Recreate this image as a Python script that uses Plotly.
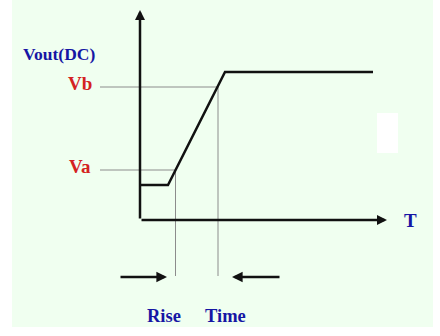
import plotly.graph_objects as go

# Data (time units ~ arbitrary, voltage units ~ arbitrary)
signal_t = [0, 28, 85, 233]
signal_v = [35, 35, 148, 148]
va_level = 50
vb_level = 133
rise_start_t = 35.5
rise_end_t = 78
guide_left_t = -40
guide_bottom_v = -56
axis_t_max = 247
axis_v_max = 210
labels_v = ["Va", "Vb"]
label_values = [va_level, vb_level]

BLUE = "#1616A4"
RED = "#D42222"
GRAY = "#8C8C8C"
FONT = "Liberation Serif"

fig = go.Figure()

# guide lines
fig.add_trace(go.Scatter(x=[guide_left_t, rise_start_t, rise_start_t],
                         y=[va_level, va_level, guide_bottom_v],
                         mode="lines", line=dict(color=GRAY, width=1), hoverinfo="skip"))
fig.add_trace(go.Scatter(x=[guide_left_t, rise_end_t, rise_end_t],
                         y=[vb_level, vb_level, guide_bottom_v],
                         mode="lines", line=dict(color=GRAY, width=1), hoverinfo="skip"))

# signal
fig.add_trace(go.Scatter(x=signal_t, y=signal_v, mode="lines",
                         line=dict(color="#111111", width=2.5), hoverinfo="skip"))

shapes = [
    # green panel
    dict(type="rect", xref="x", yref="y", x0=-128, x1=293, y0=-107, y1=220,
         fillcolor="#F0FFF0", line=dict(width=0), layer="below"),
    # white patch
    dict(type="rect", xref="x", yref="y", x0=237, x1=258, y0=67, y1=107,
         fillcolor="#FFFFFF", line=dict(width=0), layer="below"),
]

annotations = []
# axes arrows
annotations.append(dict(x=0, y=axis_v_max, ax=0, ay=0, xref="x", yref="y", axref="x", ayref="y",
                        text="", showarrow=True, arrowhead=2, arrowsize=0.8, arrowwidth=2.5,
                        arrowcolor="#111111"))
annotations.append(dict(x=axis_t_max, y=0, ax=0, ay=0, xref="x", yref="y", axref="x", ayref="y",
                        text="", showarrow=True, arrowhead=2, arrowsize=0.8, arrowwidth=2.5,
                        arrowcolor="#111111"))
# rise time arrows
annotations.append(dict(x=27, y=-57, ax=-21, ay=-57, xref="x", yref="y", axref="x", ayref="y",
                        text="", showarrow=True, arrowhead=2, arrowsize=0.85, arrowwidth=2.5,
                        arrowcolor="#111111"))
annotations.append(dict(x=92, y=-57, ax=141, ay=-57, xref="x", yref="y", axref="x", ayref="y",
                        text="", showarrow=True, arrowhead=2, arrowsize=0.85, arrowwidth=2.5,
                        arrowcolor="#111111"))

# texts
annotations.append(dict(x=-81, y=166, xref="x", yref="y", text="<b>Vout(DC)</b>", showarrow=False,
                        font=dict(family=FONT, size=17.5, color=BLUE)))
for lab, v in zip(labels_v, label_values):
    annotations.append(dict(x=-60, y=v + 4, xref="x", yref="y", text=f"<b>{lab}</b>", showarrow=False,
                            font=dict(family=FONT, size=19, color=RED)))
annotations.append(dict(x=270, y=0, xref="x", yref="y", text="<b>T</b>", showarrow=False,
                        font=dict(family=FONT, size=19, color=BLUE)))
annotations.append(dict(x=23.5, y=-96, xref="x", yref="y", text="<b>Rise</b>", showarrow=False,
                        font=dict(family=FONT, size=18.5, color=BLUE)))
annotations.append(dict(x=85.5, y=-96, xref="x", yref="y", text="<b>Time</b>", showarrow=False,
                        font=dict(family=FONT, size=18.5, color=BLUE)))

fig.update_layout(
    width=440, height=336,
    margin=dict(l=0, r=0, t=0, b=0),
    paper_bgcolor="#FFFFFF", plot_bgcolor="#FFFFFF",
    showlegend=False,
    xaxis=dict(range=[-140, 300], visible=False, fixedrange=True),
    yaxis=dict(range=[-116, 220], visible=False, fixedrange=True),
    shapes=shapes, annotations=annotations,
)

fig.write_html("out.html")
